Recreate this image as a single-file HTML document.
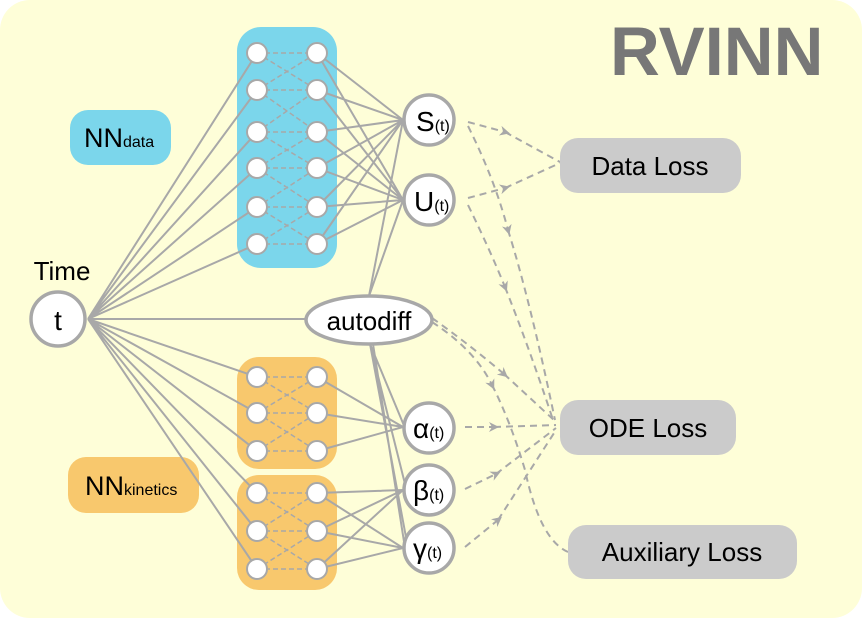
<!DOCTYPE html>
<html><head><meta charset="utf-8"><style>
html,body{margin:0;padding:0;background:#fff;}
svg{display:block;font-family:"Liberation Sans",sans-serif;}
</style></head><body>
<svg width="862" height="618" viewBox="0 0 862 618" xmlns="http://www.w3.org/2000/svg">
<defs>
<marker id="ar" viewBox="0 0 10 10" refX="5" refY="5" markerWidth="5" markerHeight="5" orient="auto"><path d="M0,0 L10,5 L0,10 L3,5z" fill="#a8a8a8"/></marker>
</defs>
<rect x="0" y="0" width="862" height="618" rx="30" fill="#fefed8"/>
<text x="610" y="75" font-size="69" font-weight="bold" fill="#777">RVINN</text>

<rect x="70" y="110" width="101" height="55" rx="18" fill="#7bd6eb"/>
<text x="84" y="147" font-size="27" fill="#000">NN<tspan font-size="16">data</tspan></text>
<rect x="68" y="457" width="131" height="56" rx="18" fill="#f8c86d"/>
<text x="85" y="495" font-size="27" fill="#000">NN<tspan font-size="16">kinetics</tspan></text>

<rect x="237" y="27" width="100" height="241" rx="24" fill="#7bd6eb"/>
<rect x="237" y="357" width="100" height="112" rx="22" fill="#f8c86d"/>
<rect x="237" y="475" width="100" height="115" rx="22" fill="#f8c86d"/>

<g stroke="#a8a8a8" stroke-width="2" fill="none">
<path d="M88,319L257,53M88,319L257,90M88,319L257,132M88,319L257,168M88,319L257,207M88,319L257,244M88,319L307,319M88,319L257,377M88,319L257,413M88,319L257,451M88,319L257,493M88,319L257,531M88,319L257,569"/>
<path d="M317,53L403,120M317,90L403,120M317,132L403,120M317,168L403,120M317,207L403,120M317,244L403,120M317,53L403,200M317,90L403,200M317,132L403,200M317,168L403,200M317,207L403,200M317,244L403,200"/>
<path d="M369,296L403,120M369,296L403,200"/>
<path d="M370,344L405,428M370,344L407,492M370,344L408,548M373,344L405,548"/>
<path d="M317,377L403,427M317,413L403,427M317,451L403,427"/>
<path d="M317,493L403,490M317,531L403,490M317,569L403,490M317,493L403,548M317,531L403,548M317,569L403,548"/>
</g>
<g stroke="#a8a8a8" stroke-width="1.5" stroke-dasharray="5,3" fill="none">
<path d="M257,53L317,53M257,90L317,90M257,132L317,132M257,168L317,168M257,207L317,207M257,244L317,244
M257,53L317,90M257,90L317,53M257,90L317,132M257,132L317,90M257,132L317,168M257,168L317,132M257,168L317,207M257,207L317,168M257,207L317,244M257,244L317,207"/>
<path d="M257,377L317,377M257,413L317,413M257,451L317,451M257,377L317,413M257,413L317,377M257,413L317,451M257,451L317,413"/>
<path d="M257,493L317,493M257,531L317,531M257,569L317,569M257,493L317,531M257,531L317,493M257,531L317,569M257,569L317,531"/>
</g>
<g stroke="#a8a8a8" stroke-width="2" stroke-dasharray="7,5" fill="none">
<path d="M468,122L505,132" marker-end="url(#ar)"/><path d="M505,132L560,162"/>
<path d="M468,198L505,188" marker-end="url(#ar)"/><path d="M505,188L560,163"/>
<path d="M468,126Q495,180 508,230" marker-end="url(#ar)"/><path d="M508,230Q530,300 555,420"/>
<path d="M468,205Q490,250 505,287" marker-end="url(#ar)"/><path d="M505,287Q530,350 553,420"/>
<path d="M432,318Q470,345 504,374" marker-end="url(#ar)"/><path d="M504,374L556,422"/>
<path d="M432,322Q475,350 492,385" marker-end="url(#ar)"/><path d="M492,385Q510,420 525,470Q540,540 568,552"/>
<path d="M465,427L494,427" marker-end="url(#ar)"/><path d="M494,427L556,425"/>
<path d="M465,489L496,474" marker-end="url(#ar)"/><path d="M496,474L556,428"/>
<path d="M465,547L498,520" marker-end="url(#ar)"/><path d="M498,520L556,430"/>
</g>

<g fill="#fff" stroke="#a8a8a8" stroke-width="2">
<circle cx="257" cy="53" r="10"/><circle cx="257" cy="90" r="10"/><circle cx="257" cy="132" r="10"/><circle cx="257" cy="168" r="10"/><circle cx="257" cy="207" r="10"/><circle cx="257" cy="244" r="10"/>
<circle cx="317" cy="53" r="10"/><circle cx="317" cy="90" r="10"/><circle cx="317" cy="132" r="10"/><circle cx="317" cy="168" r="10"/><circle cx="317" cy="207" r="10"/><circle cx="317" cy="244" r="10"/>
<circle cx="257" cy="377" r="10"/><circle cx="257" cy="413" r="10"/><circle cx="257" cy="451" r="10"/>
<circle cx="317" cy="377" r="10"/><circle cx="317" cy="413" r="10"/><circle cx="317" cy="451" r="10"/>
<circle cx="257" cy="493" r="10"/><circle cx="257" cy="531" r="10"/><circle cx="257" cy="569" r="10"/>
<circle cx="317" cy="493" r="10"/><circle cx="317" cy="531" r="10"/><circle cx="317" cy="569" r="10"/>
</g>
<g fill="#fff" stroke="#a8a8a8" stroke-width="3.5">
<circle cx="58" cy="319" r="27"/>
<circle cx="429" cy="120" r="25"/>
<circle cx="429" cy="200" r="25"/>
<circle cx="429" cy="428" r="25"/>
<circle cx="429" cy="490" r="25"/>
<circle cx="429" cy="548" r="25"/>
<ellipse cx="369" cy="320" rx="63" ry="24"/>
</g>
<text x="62" y="280" font-size="26" text-anchor="middle">Time</text>
<text x="58" y="330" font-size="28" text-anchor="middle">t</text>
<text x="416" y="131" font-size="28">S<tspan font-size="16">(t)</tspan></text>
<text x="414" y="211" font-size="28">U<tspan font-size="16">(t)</tspan></text>
<text x="413" y="438" font-size="28">α<tspan font-size="16">(t)</tspan></text>
<text x="413" y="500" font-size="28">β<tspan font-size="16">(t)</tspan></text>
<text x="413" y="558" font-size="28">γ<tspan font-size="16">(t)</tspan></text>
<text x="369" y="330" font-size="26" text-anchor="middle">autodiff</text>

<rect x="560" y="138" width="181" height="55" rx="18" fill="#cbcbcb"/>
<text x="650" y="175" font-size="26" text-anchor="middle">Data Loss</text>
<rect x="560" y="400" width="176" height="55" rx="18" fill="#cbcbcb"/>
<text x="648" y="437" font-size="26" text-anchor="middle">ODE Loss</text>
<rect x="568" y="525" width="229" height="54" rx="18" fill="#cbcbcb"/>
<text x="682" y="561" font-size="26" text-anchor="middle">Auxiliary Loss</text>
</svg>
</body></html>
